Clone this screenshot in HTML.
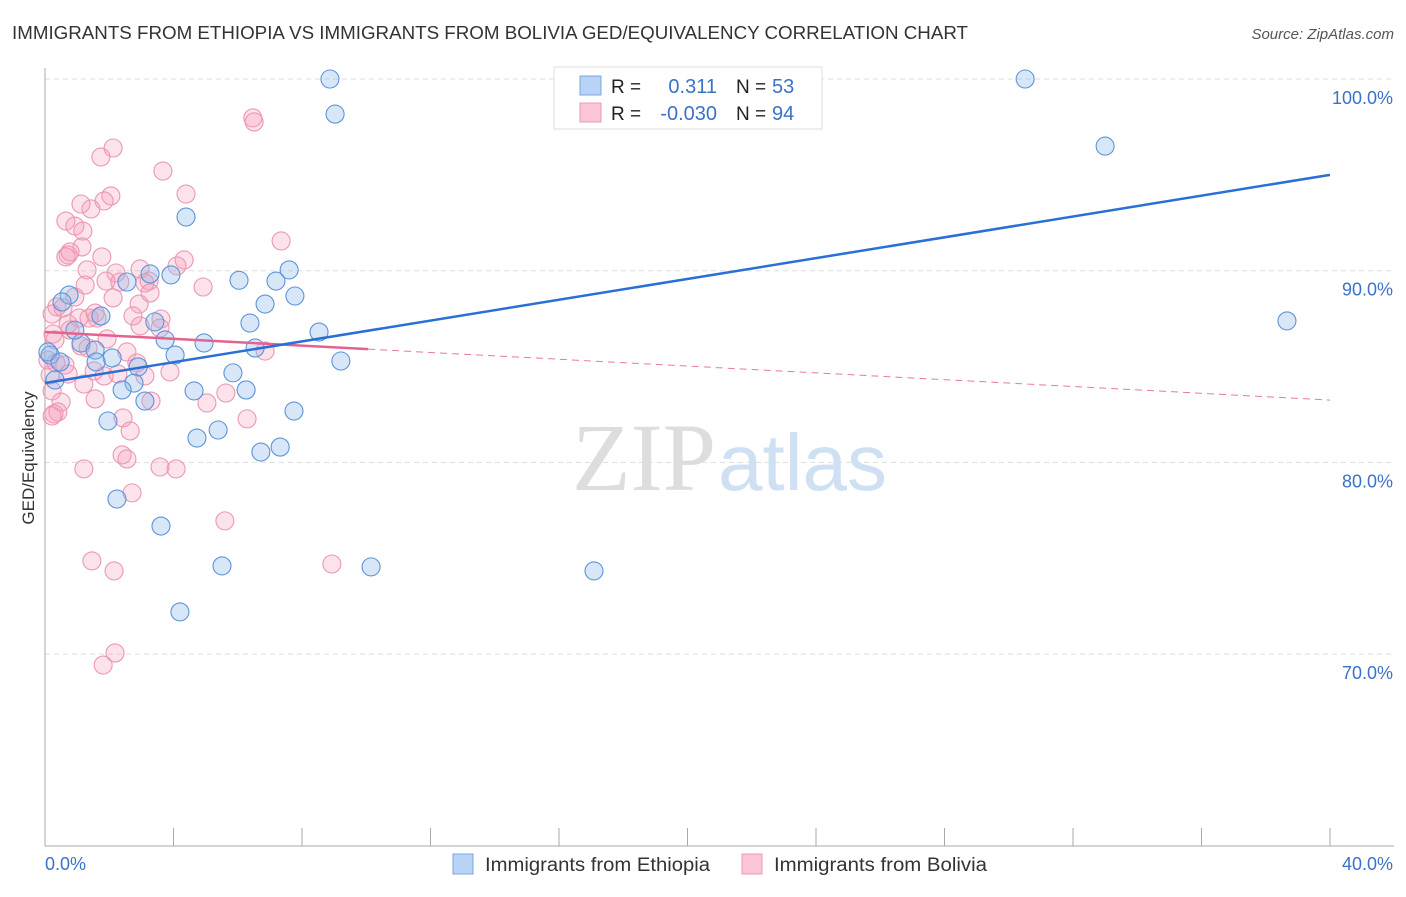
<!DOCTYPE html>
<html><head><meta charset="utf-8">
<style>
body{margin:0;background:#fff;font-family:"Liberation Sans",sans-serif;}
svg text{font-family:"Liberation Sans",sans-serif;}
</style></head>
<body>
<svg id="chart" width="1406" height="892" viewBox="0 0 1406 892" xmlns="http://www.w3.org/2000/svg">
<text x="12" y="39" font-size="18.5" fill="#333" textLength="956" lengthAdjust="spacingAndGlyphs">IMMIGRANTS FROM ETHIOPIA VS IMMIGRANTS FROM BOLIVIA GED/EQUIVALENCY CORRELATION CHART</text>
<text x="1394" y="39" font-size="15" fill="#555" font-style="italic" text-anchor="end">Source: ZipAtlas.com</text>
<text x="34" y="458" font-size="17" fill="#333" text-anchor="middle" transform="rotate(-90 34 458)">GED/Equivalency</text>
<g id="grid"></g>
<g id="axes"></g>
<text x="716" y="490" font-size="96" fill="#ddd" text-anchor="end" style="font-family:'Liberation Serif',serif">ZIP</text>
<text x="718" y="490" font-size="80" fill="#cfe0f3">atlas</text>
<g id="pink"></g>
<g id="blue"></g>
<g id="trends"></g>
<g>
<rect x="554" y="67" width="268" height="62" fill="#fff" stroke="#ddd"/>
<rect x="580" y="76" width="21" height="19" fill="#b8d3f5" stroke="#7aa7e0"/>
<rect x="580" y="103" width="21" height="19" fill="#fac6d6" stroke="#ec9ab4"/>
<text x="611" y="93" font-size="19" fill="#222">R =</text>
<text x="717" y="93" font-size="20" fill="#3a72c8" text-anchor="end">0.311</text>
<text x="736" y="93" font-size="19" fill="#222">N =</text>
<text x="772" y="93" font-size="20" fill="#3a72c8">53</text>
<text x="611" y="120" font-size="19" fill="#222">R =</text>
<text x="717" y="120" font-size="20" fill="#3a72c8" text-anchor="end">-0.030</text>
<text x="736" y="120" font-size="19" fill="#222">N =</text>
<text x="772" y="120" font-size="20" fill="#3a72c8">94</text>
</g>
<g>
<rect x="453" y="854" width="20" height="20" fill="#b8d3f5" stroke="#7aa7e0"/>
<text x="485" y="871" font-size="19" fill="#333" textLength="225" lengthAdjust="spacingAndGlyphs">Immigrants from Ethiopia</text>
<rect x="742" y="854" width="20" height="20" fill="#fac6d6" stroke="#ec9ab4"/>
<text x="774" y="871" font-size="19" fill="#333" textLength="213" lengthAdjust="spacingAndGlyphs">Immigrants from Bolivia</text>
</g>
</svg>
<script>
const yTicks=[100,90,80,70];
const yTickLabels=["100.0%","90.0%","80.0%","70.0%"];
const xTicks=[0,4,8,12,16,20,24,28,32,36,40];
const xEndLabels=["0.0%","40.0%"];
const ethX=[8.87,9.03,30.51,33.0,4.39,6.04,7.19,7.6,7.78,6.85,3.92,3.27,2.55,0.75,0.53,1.74,3.42,6.38,8.53,38.66,3.74,4.95,1.12,1.56,4.05,2.09,1.59,6.54,9.21,2.9,0.16,0.09,0.47,5.85,2.77,2.4,4.64,6.26,3.11,0.31,7.75,1.96,5.39,4.73,7.32,6.72,2.24,3.61,5.51,10.15,17.09,4.2,0.93];
const ethY=[100,98.17,100,96.5,92.8,89.5,89.46,90.04,88.68,88.26,89.78,89.83,89.41,88.73,88.37,87.64,87.33,87.27,86.8,87.38,86.39,86.23,86.23,85.86,85.6,85.45,85.24,85.97,85.29,84.98,85.6,85.76,85.24,84.67,84.14,83.78,83.73,83.78,83.2,84.3,82.68,82.16,81.69,81.27,80.8,80.54,78.09,76.68,74.6,74.55,74.34,72.2,86.9];
const bolX=[6.47,6.51,2.12,1.74,3.67,4.39,2.05,1.84,1.43,1.12,0.65,0.93,1.18,1.15,0.72,0.65,0.78,1.77,1.31,7.35,4.33,4.11,2.96,2.21,1.9,3.24,3.11,4.92,3.27,1.25,2.12,2.93,0.93,0.37,0.22,1.62,1.37,2.74,1.06,3.61,2.96,1.93,2.55,1.12,0.78,0.25,0.72,1.56,0.56,3.58,0.34,0.62,1.53,2.27,3.11,0.72,1.84,1.21,6.85,0.22,0.5,1.56,3.3,5.04,5.63,2.43,0.4,0.28,0.22,6.29,2.65,2.4,2.55,3.58,4.08,1.21,2.71,5.6,8.93,1.46,2.15,2.18,1.81,0.16,0.09,0.31,1.34,2.86,3.89,2.33];
const bolY=[97.97,97.76,96.4,95.93,95.2,94.0,93.9,93.64,93.22,93.48,92.59,92.33,92.07,91.24,90.82,90.72,90.98,90.72,90.04,91.55,90.56,90.25,90.09,89.88,89.46,89.46,89.36,89.15,88.84,89.25,88.58,88.26,88.63,88.11,87.74,87.53,87.53,87.64,87.53,87.48,87.12,86.44,85.76,86.07,86.91,86.7,87.22,87.79,88.06,87.01,85.19,85.08,84.77,84.61,84.51,84.61,84.51,84.09,85.81,83.73,83.15,83.31,83.2,83.1,83.62,82.32,82.63,82.53,82.42,82.27,81.64,80.39,80.18,79.76,79.66,79.66,78.41,76.95,74.7,74.86,74.34,70.06,69.43,84.56,85.34,86.39,85.97,85.19,84.72,89.41];
const ethTrend=[84.14,95.0];
const bolTrend=[86.8,83.25];
const bolSolidEnd=[10.06];

const X=v=>45+v*(1285/40);
const Y=v=>79+(100-v)*19.17;
const NS="http://www.w3.org/2000/svg";
function mk(parent,tag,attrs){const e=document.createElementNS(NS,tag);for(const k in attrs)e.setAttribute(k,attrs[k]);parent.appendChild(e);return e;}
const grid=document.getElementById('grid'),axes=document.getElementById('axes');
yTicks.forEach((t,i)=>{
  const l=mk(grid,'line',{x1:45,x2:1394,y1:Y(t),y2:Y(t),stroke:'#ddd','stroke-dasharray':'5,4'});
  
  
  const tx=mk(grid,'text',{x:1393,y:Y(t)+25,'font-size':18,fill:'#3a72c8','text-anchor':'end'});
  tx.textContent=yTickLabels[i];
  
  
});
const ya=mk(axes,'line',{x1:45,x2:45,y1:68,y2:846,stroke:'#aaa'});


const xa=mk(axes,'line',{x1:45,x2:1394,y1:846,y2:846,stroke:'#aaa'});


xTicks.forEach(t=>{
  const l=mk(axes,'line',{x1:X(t),x2:X(t),y1:828,y2:846,stroke:'#aaa'});
  
  
});
const xl0=mk(axes,'text',{x:45,y:870,'font-size':18,fill:'#3a72c8'});
xl0.textContent=xEndLabels[0];


const xl1=mk(axes,'text',{x:1393,y:870,'font-size':18,fill:'#3a72c8','text-anchor':'end'});
xl1.textContent=xEndLabels[1];



const pg=document.getElementById('pink');
bolX.forEach((x,i)=>{
  const c=mk(pg,'circle',{cx:X(x),cy:Y(bolY[i]),r:9,fill:'rgba(244,160,188,0.3)',stroke:'#ec97b2','stroke-width':1.1});
  
  
});
const bg=document.getElementById('blue');
ethX.forEach((x,i)=>{
  const c=mk(bg,'circle',{cx:X(x),cy:Y(ethY[i]),r:9,fill:'rgba(140,185,236,0.35)',stroke:'#5f93d8','stroke-width':1.1});
  
  
});
const tg=document.getElementById('trends');
const bt=v=>bolTrend[0]+(bolTrend[1]-bolTrend[0])*v/40;
const d1=mk(tg,'line',{x1:X(bolSolidEnd[0]),y1:Y(bt(bolSolidEnd[0])),x2:X(40),y2:Y(bolTrend[1]),stroke:'#e8799e','stroke-width':1,'stroke-dasharray':'7,5'});


const s1=mk(tg,'line',{x1:X(0),y1:Y(bolTrend[0]),x2:X(bolSolidEnd[0]),y2:Y(bt(bolSolidEnd[0])),stroke:'#e4628f','stroke-width':2.5});


const e1=mk(tg,'line',{x1:X(0),y1:Y(ethTrend[0]),x2:X(40),y2:Y(ethTrend[1]),stroke:'#2a6fd6','stroke-width':2.5});


</script>
</body></html>
